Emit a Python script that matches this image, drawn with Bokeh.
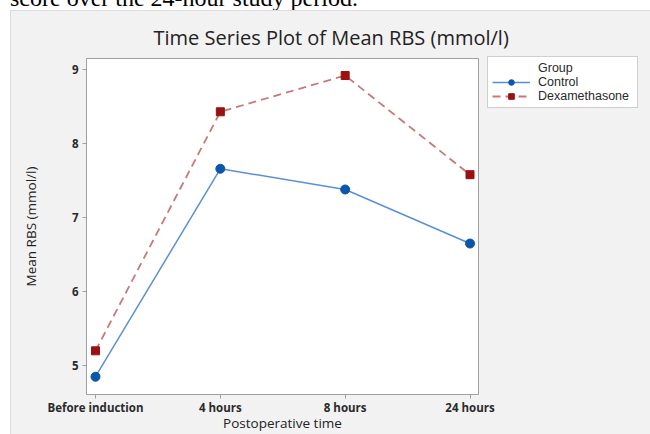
from bokeh.plotting import figure
from bokeh.models import (Range1d, FixedTicker, Legend, LegendItem,
                          ColumnDataSource, Div, Spacer)
from bokeh.layouts import column, row
from bokeh.embed import file_html
from bokeh.resources import INLINE

# ---- data ----
times = ["Before induction", "4 hours", "8 hours", "24 hours"]
control = [4.85, 7.66, 7.38, 6.65]
dexamethasone = [5.20, 8.43, 8.92, 7.58]
y_ticks = [5, 6, 7, 8, 9]

title_text = "Time Series Plot of Mean RBS (mmol/l)"
x_label = "Postoperative time"
y_label = "Mean RBS (mmol/l)"
legend_title = "Group"
series_names = ["Control", "Dexamethasone"]
caption_text = "score over the 24-hour study period."

FONT = "Open Sans"
LFONT = "Liberation Sans"
idx = list(range(len(times)))

FW, FH = 392, 336
p = figure(frame_width=FW, frame_height=FH, output_backend="svg",
           toolbar_location=None,
           x_range=Range1d(-0.072, 3.068), y_range=Range1d(4.61, 9.15),
           min_border_left=76, min_border_right=172, min_border_top=48,
           min_border_bottom=40,
           styles={"outline": "1px solid #d4d4d4", "outline-offset": "-1px"})
p.border_fill_color = "#f2f2f2"
p.background_fill_color = "white"
p.outline_line_color = "#a0a0a0"
p.outline_line_width = 1
p.xgrid.visible = False
p.ygrid.visible = False

p.title.text = title_text
p.title.align = "left"
p.title.offset = 67
p.title.text_font = FONT
p.title.text_font_size = "20px"
p.title.text_font_style = "normal"
p.title.text_color = "#222222"
p.title.standoff = 16

for ax in (p.xaxis[0], p.yaxis[0]):
    ax.axis_line_color = "#a0a0a0"
    ax.major_tick_line_color = "#a0a0a0"
    ax.major_tick_in = 0
    ax.major_tick_out = 4
    ax.minor_tick_line_color = None
    ax.major_label_text_font = FONT
    ax.major_label_text_font_size = "11.5px"
    ax.major_label_text_color = "#2a2a2a"
    ax.major_label_text_font_style = "bold"
    ax.axis_label_text_font = FONT
    ax.axis_label_text_font_size = "13.5px"
    ax.axis_label_text_font_style = "normal"
    ax.axis_label_text_color = "#222222"

p.xaxis.ticker = FixedTicker(ticks=idx)
p.xaxis.major_label_overrides = {i: t for i, t in zip(idx, times)}
p.xaxis.axis_label = x_label
p.xaxis.major_label_standoff = 1
p.xaxis.axis_label_standoff = -4

p.yaxis.ticker = FixedTicker(ticks=y_ticks)
p.yaxis.axis_label = y_label
p.yaxis.major_label_standoff = 4
p.yaxis.axis_label_standoff = 29

src = ColumnDataSource(dict(x=idx, c=control, d=dexamethasone))

blue_line = "#5b8fd4"
blue_mark = "#0a56a8"
red_line = "#c87878"
red_mark = "#9b1010"

r_c_line = p.line("x", "c", source=src, line_color=blue_line, line_width=1.5)
r_c_mark = p.scatter("x", "c", source=src, marker="circle", size=9,
                     fill_color=blue_mark, line_color=blue_mark)
r_d_line = p.line("x", "d", source=src, line_color=red_line, line_width=1.8,
                  line_dash="8 5")
r_d_mark = p.scatter("x", "d", source=src, marker="square", size=8,
                     fill_color=red_mark, line_color=red_mark)
r_dummy = p.line("x", "c", source=src, line_alpha=0)

LH = 14
PAD = 4
legend_h = 3 * LH + 2 * PAD
legend = Legend(items=[
    LegendItem(label=legend_title, renderers=[r_dummy]),
    LegendItem(label=series_names[0], renderers=[r_c_line, r_c_mark]),
    LegendItem(label=series_names[1], renderers=[r_d_line, r_d_mark]),
], location=(9, FH - legend_h))
legend.label_text_font = LFONT
legend.label_text_font_size = "12.5px"
legend.label_text_color = "#2a2a2a"
legend.glyph_width = 38
legend.glyph_height = LH
legend.label_height = LH
legend.label_standoff = 8
legend.label_width = 95
legend.spacing = 0
legend.padding = PAD
legend.margin = 0
legend.border_line_color = "#a0a0a0"
legend.background_fill_color = "white"
p.add_layout(legend, "right")

caption = Div(
    text=('<div style="font-family:\'Liberation Serif\',serif;font-size:24px;'
          'line-height:24px;position:relative;top:-14px;white-space:nowrap;'
          'color:#000;">' + caption_text + '</div>'),
    width=650, height=10,
    styles={"overflow": "hidden", "margin": "0", "padding": "0 0 0 10px"})

layout = column(caption, row(Spacer(width=10, height=10), p, spacing=0),
                spacing=0)

open("out.html", "w").write(file_html(layout, INLINE))
